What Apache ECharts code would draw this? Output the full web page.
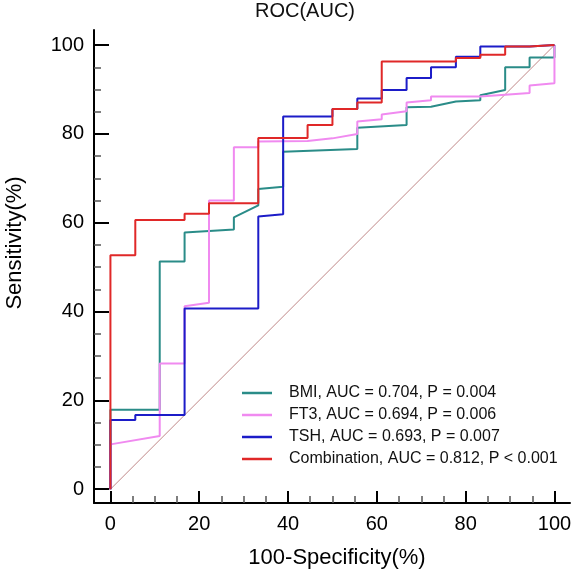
<!DOCTYPE html>
<html><head><meta charset="utf-8">
<script src="https://cdn.jsdelivr.net/npm/echarts@6/dist/echarts.min.js"></script>
<style>html,body{margin:0;padding:0;background:#fff}#c{width:573px;height:569px}</style>
</head><body><div id="c"></div>
<script>
// ---- data (x = 100-Specificity %, y = Sensitivity %) ----
const seriesNames = [
  'BMI, AUC = 0.704, P = 0.004',
  'FT3, AUC = 0.694, P = 0.006',
  'TSH, AUC = 0.693, P = 0.007',
  'Combination, AUC = 0.812, P < 0.001'
];
const bmiPoints = [[0,0],[0,17.9],[11.1,17.9],[11.1,51.3],[16.7,51.3],[16.7,57.8],[27.8,58.5],[27.8,61.2],[33.3,63.9],[33.3,67.6],[38.9,68.1],[38.9,76.0],[55.6,76.6],[55.6,81.4],[66.7,82.0],[66.7,86.0],[72.2,86.1],[77.8,87.3],[77.8,87.6],[83.3,87.6],[83.3,88.7],[88.9,89.9],[88.9,95.0],[94.4,95.0],[94.4,97.2],[100,97.2],[100,100]];
const ft3Points = [[0,0],[0,10.1],[11.1,12.0],[11.1,28.3],[16.7,28.3],[16.7,41.2],[22.2,42.0],[22.2,65.0],[27.8,65.0],[27.8,77.0],[33.3,77.0],[33.3,78.3],[44.4,78.4],[50.0,79.0],[55.6,80.0],[55.6,82.8],[61.1,83.3],[61.1,84.4],[66.7,85.1],[66.7,87.1],[72.2,87.6],[72.2,88.4],[83.3,88.4],[88.9,88.8],[94.4,89.2],[94.4,90.9],[100,91.4],[100,100]];
const tshPoints = [[0,0],[0,15.6],[5.6,15.6],[5.6,16.7],[16.7,16.7],[16.7,40.7],[33.3,40.7],[33.3,61.4],[38.9,61.9],[38.9,83.9],[50.0,83.9],[50.0,85.6],[55.6,85.6],[55.6,88.0],[61.1,88.0],[61.1,89.9],[66.7,89.9],[66.7,92.6],[72.2,92.6],[72.2,95.0],[77.8,95.0],[77.8,97.4],[83.3,97.4],[83.3,99.7],[94.4,99.7],[94.4,100],[100,100]];
const combPoints = [[0,0],[0,52.7],[5.6,52.7],[5.6,60.6],[16.7,60.6],[16.7,62.0],[22.2,62.0],[22.2,64.4],[33.3,64.4],[33.3,79.1],[44.4,79.1],[44.4,82.0],[50.0,82.0],[50.0,85.6],[55.6,85.6],[55.6,87.1],[61.1,87.1],[61.1,96.3],[77.8,96.3],[77.8,97.1],[83.3,97.1],[83.3,97.8],[88.9,97.8],[88.9,99.7],[94.4,99.7],[94.4,100],[100,100]];
const diagonalPoints = [[0,0],[100,100]];
const majorTicks = [0,20,40,60,80,100];
const minorTicks = [5,10,15,25,30,35,45,50,55,65,70,75,85,90,95];
const colors = ['#2a8c88','#f08af0','#1c1cc8','#e02828'];

const FONT = "'Liberation Sans', Arial, sans-serif";
const XMIN = -3.7, XMAX = 103.5, YMIN = -3.1, YMAX = 103.4;

function axisPair(dim) {
  const isX = dim === 'x';
  const major = {
    type: 'value', min: isX ? XMIN : YMIN, max: isX ? XMAX : YMAX,
    position: isX ? 'bottom' : 'left',
    axisLine: { show: true, onZero: false, lineStyle: { color: '#000', width: 2 } },
    axisTick: { show: true, inside: true, length: isX ? 12 : 15, customValues: majorTicks, lineStyle: { color: '#000', width: 2 } },
    axisLabel: { customValues: majorTicks, fontSize: 20, color: '#000', fontFamily: FONT, margin: isX ? 11 : 10 },
    splitLine: { show: false },
    name: isX ? '100-Specificity(%)' : 'Sensitivity(%)',
    nameLocation: 'middle',
    nameGap: isX ? 44 : 68,
    nameTextStyle: isX
      ? { fontSize: 22, color: '#000', fontFamily: FONT, padding: [0, 0, 0, 10] }
      : { fontSize: 22, color: '#000', fontFamily: FONT, padding: [0, 0, 0, 47] }
  };
  const minor = {
    type: 'value', min: isX ? XMIN : YMIN, max: isX ? XMAX : YMAX,
    position: isX ? 'bottom' : 'left',
    axisLine: { show: false, onZero: false },
    axisTick: { show: true, inside: true, length: 7, customValues: minorTicks, lineStyle: { color: '#555', width: 1.5 } },
    axisLabel: { show: false },
    splitLine: { show: false }
  };
  return [major, minor];
}

const chart = echarts.init(document.getElementById('c'), null, { renderer: 'canvas' });
const curves = [bmiPoints, ft3Points, tshPoints, combPoints];
const option = {
  animation: false,
  backgroundColor: '#fff',
  title: {
    text: 'ROC(AUC)', left: 255, top: 1, padding: 0,
    textStyle: { fontSize: 20, fontWeight: 'normal', color: '#111', fontFamily: FONT }
  },
  legend: {
    data: seriesNames,
    orient: 'vertical', left: 242, top: 385, padding: 0,
    icon: 'rect', itemWidth: 30, itemHeight: 2.5, itemGap: 6,
    textStyle: { fontSize: 16, color: '#111', fontFamily: FONT, padding: [0, 0, 0, 12] }
  },
  grid: { left: 94, top: 30, width: 476, height: 473, containLabel: false, outerBoundsMode: 'none' },
  xAxis: axisPair('x'),
  yAxis: axisPair('y'),
  series: [
    {
      type: 'line', name: 'ref', data: diagonalPoints, symbol: 'none', silent: true,
      lineStyle: { color: '#c08888', width: 1 }, xAxisIndex: 0, yAxisIndex: 0
    }
  ].concat(curves.map((d, i) => ({
    type: 'line', name: seriesNames[i], data: d, symbol: 'none',
    xAxisIndex: 0, yAxisIndex: 0,
    color: colors[i],
    lineStyle: { color: colors[i], width: 2 }
  })))
};
chart.setOption(option);
</script>
</body></html>
